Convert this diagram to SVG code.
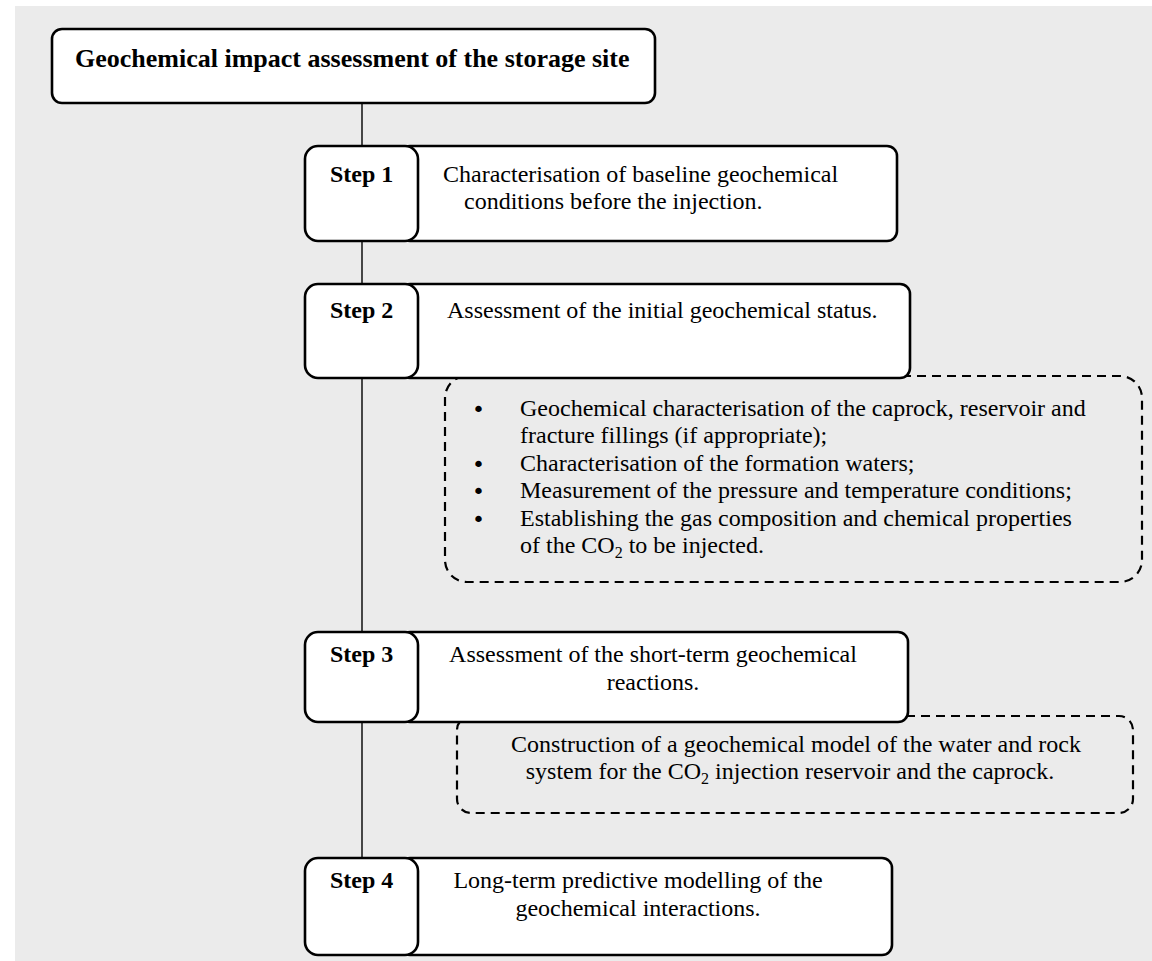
<svg xmlns="http://www.w3.org/2000/svg" width="1152" height="961" viewBox="0 0 1152 961">
  <style>
    .box { fill: #ffffff; stroke: #000000; stroke-width: 2.6; }
    .dash { fill: none; stroke: #000000; stroke-width: 2.2; stroke-dasharray: 9 6; }
    .link { stroke: #000000; stroke-width: 1.4; fill: none; }
    .t { font-family: "Liberation Serif", "Times New Roman", serif; font-size: 24px; fill: #000000; }
    .c { text-anchor: middle; }
    .b { font-family: "Liberation Serif", "Times New Roman", serif; font-size: 26px; font-weight: bold; fill: #000000; }
    .s { font-family: "Liberation Serif", "Times New Roman", serif; font-size: 24px; font-weight: bold; fill: #000000; }
    .sub { font-size: 16px; }
    .dot { font-family: "DejaVu Sans", sans-serif; font-size: 22px; fill: #000000; }
  </style>
  <rect x="15" y="6" width="1137" height="955" fill="#ebebeb"/>

  <g id="connectors">
    <line class="link" x1="362" y1="103" x2="362" y2="858"/>
  </g>

  <g id="title">
    <rect class="box" x="52" y="29" width="603" height="74" rx="10"/>
    <text class="b" x="75" y="67">Geochemical impact assessment of the storage site</text>
  </g>

  <g id="step1">
    <rect class="box" x="400" y="146" width="497" height="95" rx="10"/>
    <rect class="box" x="305" y="146" width="113" height="95" rx="13"/>
    <text class="s" x="330" y="182">Step 1</text>
    <text class="t" x="443" y="182">Characterisation of baseline geochemical</text>
    <text class="t" x="464" y="209">conditions before the injection.</text>
  </g>

  <g id="details2">
    <rect class="dash" x="445" y="376" width="697" height="206" rx="22"/>
    <text class="dot" x="472" y="417">•</text>
    <text class="t" x="520" y="416">Geochemical characterisation of the caprock, reservoir and</text>
    <text class="t" x="520" y="443">fracture fillings (if appropriate);</text>
    <text class="dot" x="472" y="472">•</text>
    <text class="t" x="520" y="471">Characterisation of the formation waters;</text>
    <text class="dot" x="472" y="499">•</text>
    <text class="t" x="520" y="498">Measurement of the pressure and temperature conditions;</text>
    <text class="dot" x="472" y="527">•</text>
    <text class="t" x="520" y="526">Establishing the gas composition and chemical properties</text>
    <text class="t" x="520" y="553">of the CO<tspan class="sub" dy="5">2</tspan><tspan dy="-5"> to be injected.</tspan></text>
  </g>

  <g id="step2">
    <rect class="box" x="400" y="284" width="510" height="94" rx="10"/>
    <rect class="box" x="305" y="284" width="113" height="94" rx="13"/>
    <text class="s" x="330" y="318">Step 2</text>
    <text class="t" x="447" y="318">Assessment of the initial geochemical status.</text>
  </g>

  <g id="details3">
    <rect class="dash" x="457" y="716" width="676" height="97" rx="14"/>
    <text class="t c" x="796" y="752">Construction of a geochemical model of the water and rock</text>
    <text class="t c" x="790" y="779">system for the CO<tspan class="sub" dy="5">2</tspan><tspan dy="-5"> injection reservoir and the caprock.</tspan></text>
  </g>

  <g id="step3">
    <rect class="box" x="400" y="632" width="508" height="90" rx="10"/>
    <rect class="box" x="305" y="632" width="113" height="90" rx="13"/>
    <text class="s" x="330" y="662">Step 3</text>
    <text class="t c" x="653" y="662">Assessment of the short-term geochemical</text>
    <text class="t c" x="653" y="690">reactions.</text>
  </g>

  <g id="step4">
    <rect class="box" x="400" y="858" width="492" height="97" rx="10"/>
    <rect class="box" x="305" y="858" width="113" height="97" rx="13"/>
    <text class="s" x="330" y="888">Step 4</text>
    <text class="t c" x="638" y="888">Long-term predictive modelling of the</text>
    <text class="t c" x="638" y="916">geochemical interactions.</text>
  </g>
</svg>
